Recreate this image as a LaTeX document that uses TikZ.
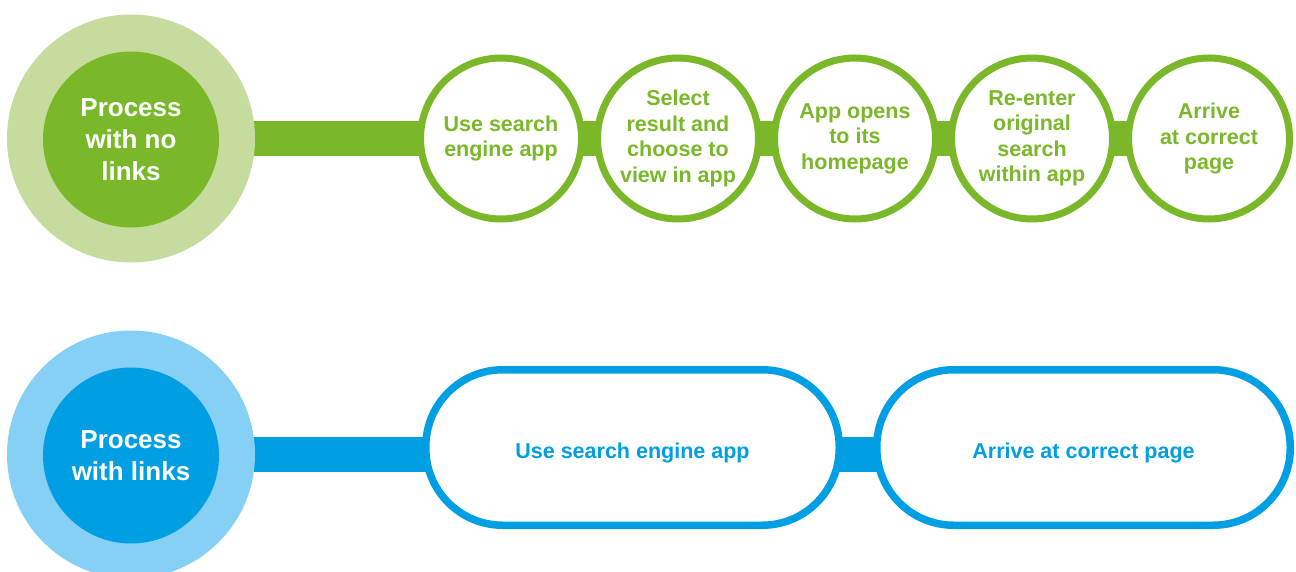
\documentclass[tikz,border=0pt]{standalone}
\usepackage{fontspec}
\setmainfont{Liberation Sans}
\pgfdeclarelayer{background}
\pgfsetlayers{background,main}
\definecolor{gdark}{HTML}{7AB829}
\definecolor{glight}{HTML}{C6DC9F}
\definecolor{bdark}{HTML}{009FE3}
\definecolor{blight}{HTML}{85D0F4}
\tikzset{
  outerc/.style={circle,inner sep=0pt,minimum size=248pt,fill=#1},
  innerc/.style={circle,inner sep=0pt,minimum size=176pt,fill=#1,text=white,align=center,
     font=\bfseries\fontsize{26pt}{31.7pt}\selectfont},
  stepc/.style={circle,inner sep=0pt,minimum size=161pt,line width=7pt,draw=gdark,fill=white,
     text=gdark,align=center,font=\bfseries\fontsize{21.5pt}{25.5pt}\selectfont},
  stepr/.style={rectangle,rounded corners=77pt,inner sep=0pt,minimum width=413.5pt,minimum height=155.5pt,
     line width=7.5pt,draw=bdark,fill=white,text=bdark,font=\bfseries\fontsize{21.5pt}{25.5pt}\selectfont},
  gbar/.style={draw=gdark,line width=35pt},
  bbar/.style={draw=bdark,line width=35pt},
}
\begin{document}
\begin{tikzpicture}[x=1pt,y=-1pt]
\useasboundingbox (0,0) rectangle (1296,572);
% top row
\node[outerc=glight] (og) at (131,138.5) {};
\node[innerc=gdark] (ig) at (131,139.5) {Process\\with no\\links};
\node[stepc] (s1) at (501,138.5) {Use search\\engine app};
\node[stepc] (s2) at (678,138.5) {Select\\result and\\choose to\\view in app};
\node[stepc] (s3) at (855,138.5) {App opens\\to its\\homepage};
\node[stepc] (s4) at (1032,138.5) {Re-enter\\original\\search\\within app};
\node[stepc] (s5) at (1209,138.5) {Arrive\\at correct\\page};
% bottom row
\node[outerc=blight] (ob) at (131,454.5) {};
\node[innerc=bdark] (ib) at (131,455.5) {Process\\with links};
\node[stepr] (r1) at (632.5,447.5) {\raisebox{-10.5pt}[0pt][0pt]{Use search engine app}};
\node[stepr] (r2) at (1083.5,447.5) {\raisebox{-10.5pt}[0pt][0pt]{Arrive at correct page}};
\coordinate (b1) at (r1.center |- ob.center);
\coordinate (b2) at (r2.center |- ob.center);
\begin{pgfonlayer}{background}
\draw[gbar] (og.center) -- (s1.center);
\draw[gbar] (s1.center) -- (s2.center);
\draw[gbar] (s2.center) -- (s3.center);
\draw[gbar] (s3.center) -- (s4.center);
\draw[gbar] (s4.center) -- (s5.center);
\draw[bbar] (ob.center) -- (b1);
\draw[bbar] (b1) -- (b2);
\end{pgfonlayer}
\end{tikzpicture}
\end{document}
